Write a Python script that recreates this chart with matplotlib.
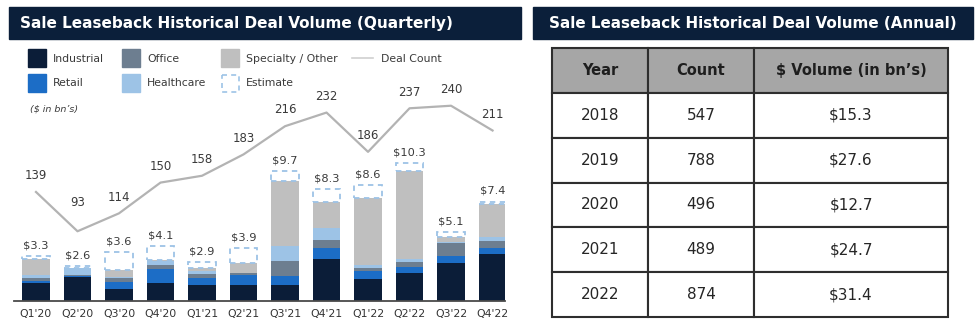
import matplotlib as mpl
mpl.use("Agg")
import matplotlib.pyplot as plt
from matplotlib.patches import Rectangle
import numpy as np

# ---------------------------------------------------------------------------
# Data
# ---------------------------------------------------------------------------
quarters = ["Q1'20", "Q2'20", "Q3'20", "Q4'20", "Q1'21", "Q2'21",
            "Q3'21", "Q4'21", "Q1'22", "Q2'22", "Q3'22", "Q4'22"]

# $ volume by property type (bn)
industrial = [1.35, 1.75, 0.90, 1.35, 1.20, 1.20, 1.15, 3.10, 1.65, 2.10, 2.80, 3.50]
retail     = [0.10, 0.12, 0.52, 1.00, 0.50, 0.75, 0.70, 0.85, 0.55, 0.45, 0.50, 0.40]
office     = [0.25, 0.05, 0.30, 0.30, 0.30, 0.10, 1.10, 0.55, 0.25, 0.35, 1.00, 0.55]
healthcare = [0.25, 0.50, 0.05, 0.35, 0.20, 0.05, 1.10, 0.95, 0.25, 0.20, 0.05, 0.30]
specialty  = [1.15, 0.00, 0.50, 0.05, 0.25, 0.75, 4.85, 1.90, 5.00, 6.55, 0.40, 2.50]
totals     = [3.3, 2.6, 3.6, 4.1, 2.9, 3.9, 9.7, 8.3, 8.6, 10.3, 5.1, 7.4]

deal_count = [139, 93, 114, 150, 158, 183, 216, 232, 186, 237, 240, 211]

years = ["2018", "2019", "2020", "2021", "2022"]
annual_count = ["547", "788", "496", "489", "874"]
annual_volume = ["$15.3", "$27.6", "$12.7", "$24.7", "$31.4"]

# ---------------------------------------------------------------------------
# Style
# ---------------------------------------------------------------------------
plt.rcParams["font.family"] = ["DejaVu Sans"]

NAVY = "#0b1f3a"
C_IND = "#0b1d38"
C_RET = "#1c6dc6"
C_OFF = "#6d7e90"
C_HC = "#9dc3e6"
C_SPEC = "#bfbfbf"
C_EST = "#9dc3e6"
C_LINE = "#b3b3b3"
TXT = "#3a3a3a"

W, H = 980, 325
fig = plt.figure(figsize=(W / 100, H / 100), dpi=100)


def px_axes(x0, y0, x1, y1):
    # axes placed by pixel box (top-left origin)
    return fig.add_axes([x0 / W, 1 - y1 / H, (x1 - x0) / W, (y1 - y0) / H])


# full-figure canvas for banners and legend
canvas = px_axes(0, 0, W, H)
canvas.set_xlim(0, W)
canvas.set_ylim(H, 0)
canvas.axis("off")

canvas.add_patch(Rectangle((9, 7), 512, 32, color=NAVY))
canvas.text(20, 23.5, "Sale Leaseback Historical Deal Volume (Quarterly)",
            color="white", fontsize=11, fontweight="bold", ha="left", va="center")
canvas.add_patch(Rectangle((533, 7), 440, 32, color=NAVY))
canvas.text(753, 23.5, "Sale Leaseback Historical Deal Volume (Annual)",
            color="white", fontsize=10.9, fontweight="bold", ha="center", va="center")

# legend
legend_items = [
    (28, 49, C_IND, "Industrial"), (122, 49, C_OFF, "Office"),
    (221, 49, C_SPEC, "Specialty / Other"),
    (28, 74, C_RET, "Retail"), (122, 74, C_HC, "Healthcare"),
]
for lx, ly, col, name in legend_items:
    canvas.add_patch(Rectangle((lx, ly), 18, 18, color=col))
    canvas.text(lx + 25, ly + 9.5, name, fontsize=7.8, color=TXT, va="center")
canvas.add_patch(Rectangle((221.5, 74.5), 17, 17, facecolor="white", edgecolor=C_EST,
                           linewidth=1.2, linestyle=(0, (3, 2.5))))
canvas.text(246, 83.5, "Estimate", fontsize=7.8, color=TXT, va="center")
canvas.plot([352, 373], [58, 58], color="#d0d0d0", lw=1.2)
canvas.text(381, 58.5, "Deal Count", fontsize=7.8, color=TXT, va="center")
canvas.text(30, 109, "($ in bn\u2019s)", fontsize=6.8, style="italic", color=TXT, va="center")

# ---------------------------------------------------------------------------
# Quarterly stacked bars
# ---------------------------------------------------------------------------
ax = px_axes(14, 100, 505, 300.7)
ax.patch.set_visible(False)
x = np.arange(len(quarters))
bw = 0.66

bottom = np.zeros(len(quarters))
for vals, col in [(industrial, C_IND), (retail, C_RET), (office, C_OFF),
                  (healthcare, C_HC), (specialty, C_SPEC)]:
    ax.bar(x, vals, bw, bottom=bottom, color=col, linewidth=0, zorder=2)
    bottom += np.array(vals)

# remaining estimated volume up to the reported total
estimate = np.array(totals) - bottom
ax.bar(x, estimate, bw, bottom=bottom, facecolor="white", edgecolor=C_EST,
       linewidth=1.3, linestyle=(0, (3, 2.5)), zorder=2)

for i, t in enumerate(totals):
    ax.annotate(f"${t}", (i, t), xytext=(0, 4), textcoords="offset points",
                ha="center", va="bottom", fontsize=8.2, color=TXT)

ax.set_xlim(-0.53, 11.3)
ax.set_ylim(0, 200.7 / 13.4)
ax.set_xticks(x, quarters)
ax.set_yticks([])
ax.tick_params(axis="x", length=0, pad=6, labelsize=7.8, labelcolor="#333333")
for s in ["top", "right", "left"]:
    ax.spines[s].set_visible(False)
ax.spines["bottom"].set_color("#4a4a4a")
ax.spines["bottom"].set_linewidth(1.3)

# deal count on a hidden secondary scale
ax2 = ax.twinx()
ax2.plot(x, deal_count, color=C_LINE, lw=1.6, zorder=1)
ax2.set_ylim(11.7, 246.7)
ax2.axis("off")
label_lift = {1: 16}
for i, c in enumerate(deal_count):
    ax2.annotate(str(c), (i, c), xytext=(0, label_lift.get(i, 7)),
                 textcoords="offset points", ha="center", va="bottom",
                 fontsize=8.5, color=TXT)

# ---------------------------------------------------------------------------
# Annual table
# ---------------------------------------------------------------------------
tax = px_axes(552, 48, 948, 317)
tax.axis("off")
cells = [[y, c, v] for y, c, v in zip(years, annual_count, annual_volume)]
tbl = tax.table(cellText=cells, colLabels=["Year", "Count", "$ Volume (in bn\u2019s)"],
                colWidths=[96 / 396, 106 / 396, 194 / 396],
                cellLoc="center", bbox=[0, 0, 1, 1])
tbl.auto_set_font_size(False)
for (r, c), cell in tbl.get_celld().items():
    cell.set_edgecolor("#2e2e2e")
    cell.set_linewidth(1.5)
    if r == 0:
        cell.set_facecolor("#a6a6a6")
        cell.get_text().set_fontweight("bold")
        cell.get_text().set_fontsize(10.5)
        cell.get_text().set_color("#1e1e1e")
    else:
        cell.get_text().set_fontsize(11)
        cell.get_text().set_color("#262626")

fig.savefig("out.png", dpi=100)
